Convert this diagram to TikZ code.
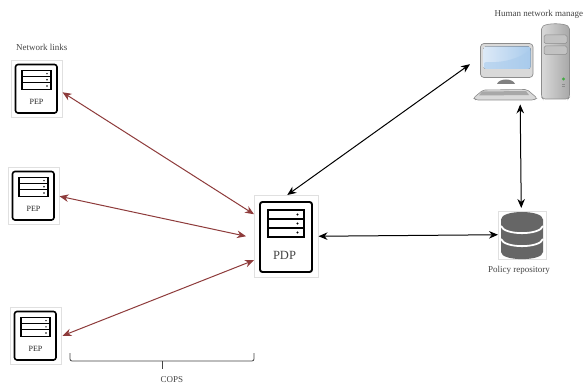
\documentclass[tikz,border=0pt]{standalone}
\usepackage{fontspec}
\setmainfont{Liberation Serif}
\usetikzlibrary{arrows.meta,calc}
\definecolor{linkred}{HTML}{8E3B3B}
\definecolor{txt}{HTML}{444444}
\definecolor{dbgray}{HTML}{666666}
\definecolor{scrA}{HTML}{DCE9F7}
\definecolor{scrB}{HTML}{A9CBEC}
\definecolor{caseA}{HTML}{D9D9D9}
\definecolor{caseB}{HTML}{A8A8A8}
\definecolor{edgeg}{HTML}{8C8C8C}
\tikzset{
  frame/.style={draw=black!12,line width=.5pt,inner sep=0,anchor=north west},
  lab/.style={text=txt,font=\fontsize{9}{10}\selectfont,inner sep=0},
  link/.style={{Stealth[length=9pt,width=7.5pt]}-{Stealth[length=9pt,width=7.5pt]},linkred,line width=1pt},
  conn/.style={{Stealth[length=9pt,width=7.5pt]}-{Stealth[length=9pt,width=7.5pt]},black,line width=1pt},
  body/.style={draw=black,fill=white,rounded corners=2.5pt},
}
% name, x, y of the frame's top-left corner
\newcommand{\pepbox}[3]{%
  \node[frame,minimum width=51pt,minimum height=57pt] (#1) at (#2,#3) {};
  \draw[body,line width=1.6pt] (#2+4.5,#3+4.5) rectangle (#2+46,#3+53);
  \foreach \k in {0,1,2}{
    \draw[black,fill=white,line width=1.1pt] (#2+11,#3+10.5+6.2*\k) rectangle (#2+40,#3+16.7+6.2*\k);
    \fill[black] (#2+36,#3+13.6+6.2*\k) circle (.8pt);
  }
  \node[lab,font=\fontsize{8}{9}\selectfont,text=black!85] at (#2+25.5,#3+41.5) {PEP};
}
\begin{document}
\begin{tikzpicture}[x=1pt,y=-1pt]
\useasboundingbox (0,0) rectangle (587,385);
\fill[white] (0,0) rectangle (587,385);

\pepbox{pepa}{11}{60}
\pepbox{pepb}{8}{167}
\pepbox{pepc}{10}{307}

% PDP
\node[frame,minimum width=64pt,minimum height=82pt] (pdp) at (254,195) {};
\draw[body,line width=1.9pt] (260,202) rectangle (312,272);
\foreach \k in {0,1,2}{
  \draw[black,fill=white,line width=1.5pt] (268,210+9*\k) rectangle (304,219+9*\k);
  \fill[black] (297.5,214.5+9*\k) circle (1.1pt);
}
\node[lab,font=\fontsize{12.5}{14}\selectfont] at (284.5,255.5) {PDP};

% Database
\node[frame,minimum width=48pt,minimum height=48pt] (db) at (498,211) {};
\fill[dbgray] (501,219.5) .. controls (501,209.5) and (543,209.5) .. (543,219.5)
  -- (543,252) .. controls (543,261.5) and (501,261.5) .. (501,252) -- cycle;
\draw[white,line width=1.8pt] (501,226) .. controls (504,235.5) and (540,235.5) .. (543,226);
\draw[white,line width=1.8pt] (501,239) .. controls (504,248.5) and (540,248.5) .. (543,239);

% Computer
\node[inner sep=0,minimum width=97pt,minimum height=78pt,anchor=north west] (pc) at (473,23) {};
% tower
\draw[draw=edgeg,left color=caseA,right color=caseB,line width=.6pt,rounded corners=2pt]
  (541.5,27) .. controls (548,23) and (563,23) .. (569.5,27) -- (569.5,97) -- (568,99) -- (543,99) -- (541.5,97) -- cycle;
\foreach \yy in {35,46}{
  \draw[draw=edgeg,fill=caseB!70!white,rounded corners=1.5pt,line width=.5pt] (544,\yy) rectangle (567,\yy+8.5);
}
\fill[green!55!black!75] (563.5,79) circle (1.6pt);
\draw[edgeg,line width=.5pt] (562,84) -- (565,84) (562,86.5) -- (565,86.5);
% monitor
\fill[black!50] (497,84) .. controls (499,78) and (513,78) .. (515,84) -- cycle;
\draw[draw=edgeg,fill=caseA,rounded corners=3.5pt,line width=.7pt] (480.5,43.5) rectangle (533,77.5);
\fill[left color=scrA,right color=scrB,rounded corners=2.5pt] (483.5,46.5) rectangle (530.5,69);
\fill[scrB,opacity=.6,rounded corners=2pt] (484,69) -- (484,62) .. controls (505,63) and (520,58) .. (530.5,49) -- (530.5,69) -- cycle;
% keyboard
\draw[draw=edgeg,fill=caseA,line width=.6pt,rounded corners=2pt]
  (473.5,98) -- (483,90) -- (527,89.5) -- (537,98) -- (534,100) -- (476,100) -- cycle;
\fill[caseB] (482,91.5) -- (526,91) -- (529,95) -- (479,95.5) -- cycle;

% Connectors
\draw[link] ([yshift=-3.5pt]pepa.east) -- ([yshift=22pt]pdp.west);
\draw[link] ([yshift=-.5pt]pepb.east) -- ([xshift=-8pt]pdp.west);
\draw[link] ([xshift=1pt]pepc.east) -- ([yshift=-24pt]pdp.west);
\draw[conn] ([xshift=1pt]pdp.north) -- ([xshift=-3pt,yshift=-2pt]pc.west);
\draw[conn] (pdp.east) -- ([yshift=.5pt]db.west);
\draw[conn] ([xshift=-1.5pt,yshift=-3pt]pc.south) -- ([xshift=-1pt,yshift=3pt]db.north);

% Brace
\coordinate (bl) at (70,353);
\coordinate (br) at (254,353);
\draw[txt,line width=.8pt,rounded corners=2pt] (bl) -- (70,361) -- (254,361) -- (br);
\draw[txt,line width=.8pt] (162,361) -- (162,369);

% Labels
\node[lab,anchor=west] at (16,47.5) {Network links};
\node[lab,anchor=west] at (494.5,14) {Human network manage};
\node[lab,anchor=center] at (519,270.5) {Policy repository};
\node[lab,anchor=center] at (172,380) {COPS};
\end{tikzpicture}
\end{document}
